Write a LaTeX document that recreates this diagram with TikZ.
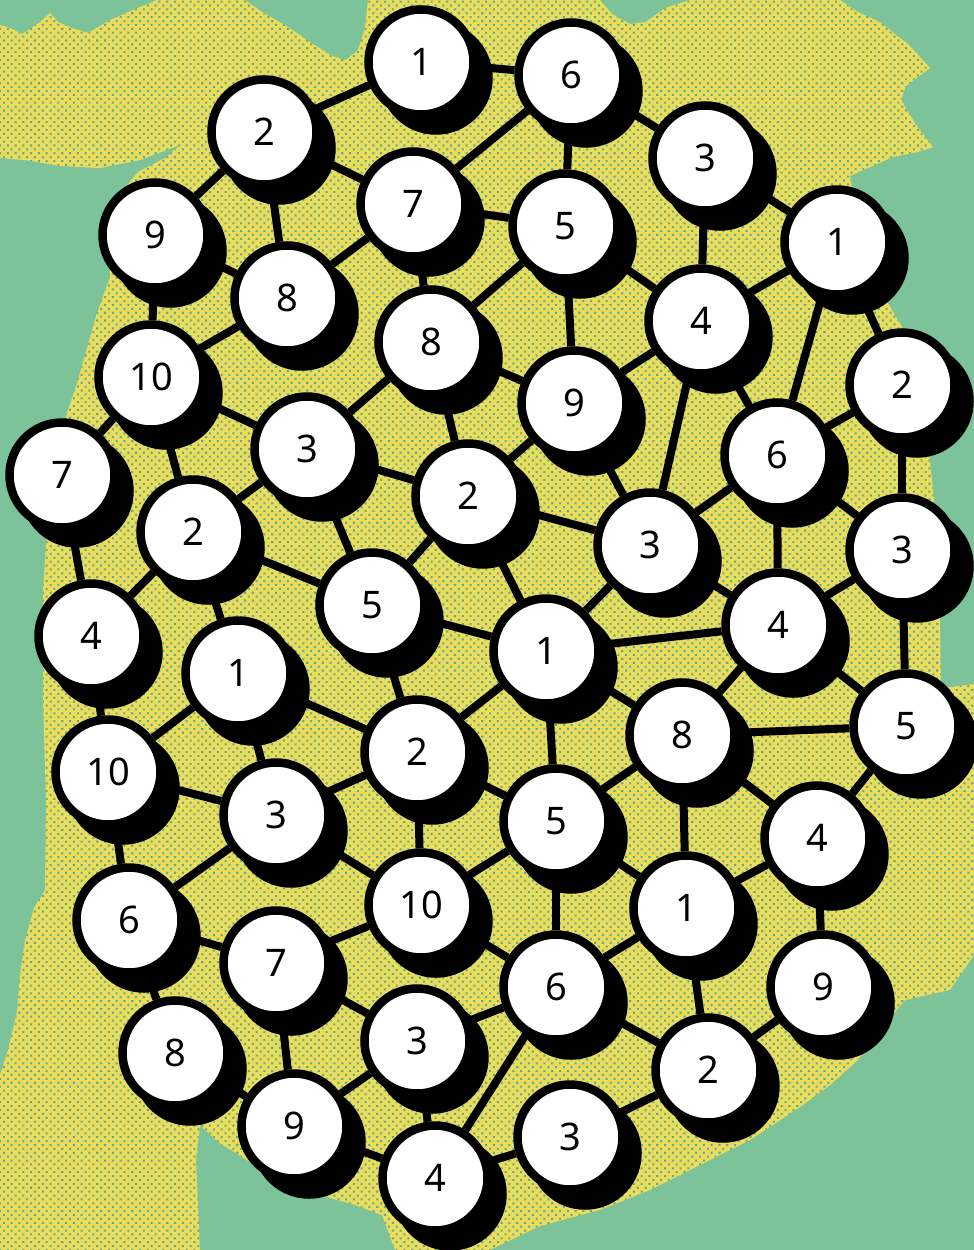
\documentclass[tikz,border=0pt]{standalone}
\usepackage{fontspec}
\setmainfont{Noto Sans}
\usetikzlibrary{patterns.meta}
\definecolor{bggreen}{HTML}{7CC39A}
\definecolor{blobyellow}{HTML}{EBDD5C}
\definecolor{dotgreen}{HTML}{65A98A}
\pgfdeclarelayer{blob}
\pgfdeclarelayer{edgelayer}
\pgfdeclarelayer{shadowlayer}
\pgfsetlayers{blob,edgelayer,shadowlayer,main}
\tikzset{
  vtx/.style={circle, draw=black, fill=white, line width=8.5pt, minimum size=105pt,
    inner sep=0pt, font=\fontsize{38pt}{38pt}\selectfont},
  link/.style={line width=8pt, draw=black},
  shade/.style={fill=black},
}
\begin{document}
\begin{tikzpicture}[x=1pt,y=-1pt]
\useasboundingbox (0,0) rectangle (974,1250);
% nodes
\foreach \n/\x/\y/\t in {
 A/421/62/1, B/571/75/6, C/264/132/2, D/705/158/3, E/413/204/7, F/565/226/5,
 G/155/235/9, H/837/242/1, I/287/298/8, J/701/321/4, K/431/342/8, L/151/377/10,
 M/902/385/2, N/574/403/9, O/307/449/3, P/777/455/6, Q/62/475/7, R/468/496/2,
 S/193/532/2, T/650/545/3, U/902/550/3, V/372/605/5, W/91/636/4, X/778/625/4,
 Y/546/651/1, Z/238/673/1, AA/906/726/5, AB/682/735/8, AC/417/752/2, AD/108/772/10,
 AE/276/815/3, AF/556/821/5, AG/817/838/4, AH/421/905/10, AI/686/908/1, AJ/129/920/6,
 AK/276/963/7, AL/556/987/6, AM/823/987/9, AN/417/1041/3, AO/175/1053/8, AP/708/1070/2,
 AQ/294/1126/9, AR/570/1137/3, AS/435/1178/4}
 {\node[vtx] (\n) at (\x,\y) {\t};}
% background
\begin{pgfonlayer}{blob}
\fill[bggreen] (0,0) rectangle (974,1250);
\path[preaction={fill=blobyellow}, pattern={Dots[distance=5.5pt,radius=1.45pt,angle=45]}, pattern color=dotgreen]
 (0,25) -- (10,28) -- (22,34) -- (40,22) -- (50,13) -- (58,22) -- (72,28) -- (88,33) -- (110,20) -- (140,7) -- (157,0)
 -- (245,0) -- (262,12) -- (285,25) -- (310,42) -- (332,56) -- (346,60) -- (358,50) -- (365,28) -- (368,0)
 -- (600,0) -- (612,14) -- (630,24) -- (646,22) -- (665,8) -- (690,0) -- (840,0) -- (858,12) -- (880,22)
 -- (896,35) -- (908,44) -- (930,68) -- (922,74) -- (906,86) -- (901,100) -- (916,125) -- (933,147) -- (918,152)
 -- (893,157) -- (868,168) -- (850,176) -- (856,212) -- (870,260) -- (886,300) -- (905,332) -- (915,370)
 -- (922,410) -- (930,460) -- (934,500) -- (938,560) -- (940,620) -- (941,688) -- (958,686) -- (974,684)
 -- (974,955) -- (950,990) -- (905,1000) -- (880,1030) -- (858,1060) -- (830,1085) -- (800,1107) -- (750,1140)
 -- (700,1165) -- (650,1190) -- (600,1210) -- (540,1226) -- (490,1250) -- (395,1250) -- (382,1215) -- (355,1205)
 -- (320,1195) -- (285,1180) -- (250,1162) -- (218,1142) -- (200,1125) -- (196,1160) -- (200,1250) -- (0,1250)
 -- (0,1075) -- (8,1050) -- (17,1012) -- (20,975) -- (25,940) -- (34,908) -- (45,890) -- (46,800) -- (43,700)
 -- (43,590) -- (47,530) -- (55,470) -- (67,413) -- (78,380) -- (97,313) -- (110,277) -- (108,240) -- (115,200)
 -- (138,172) -- (165,158) -- (180,145) -- (140,160) -- (100,168) -- (60,166) -- (25,160) -- (0,158) -- cycle;
\end{pgfonlayer}
% shadows
\begin{pgfonlayer}{shadowlayer}
\foreach \n in {A,B,C,D,E,F,G,H,I,J,K,L,M,N,O,P,Q,R,S,T,U,V,W,X,Y,Z,AA,AB,AC,AD,AE,AF,AG,AH,AI,AJ,AK,AL,AM,AN,AO,AP,AQ,AR,AS}
 {\fill[shade] ([shift={(15,16)}]\n.center) circle (56.75pt);}
\end{pgfonlayer}
% edges
\begin{pgfonlayer}{edgelayer}
\foreach \a/\b in {A/B, A/C, B/D, B/F, B/E, C/E, C/G, C/I, E/F, E/I, E/K, D/H, D/J, F/J, F/K, F/N,
 G/I, G/L, H/J, H/M, H/P, I/L, J/N, J/P, J/T, K/N, K/O, K/R, L/O, L/Q, L/S, M/P, M/U, N/R, N/T,
 O/S, O/R, O/V, P/T, P/U, P/X, Q/W, R/T, R/V, R/Y, S/W, S/V, S/Z, T/Y, T/X, U/X, U/AA, V/Y, V/AC,
 W/AD, X/Y, X/AA, X/AB, Y/AB, Y/AC, Y/AF, Z/AC, Z/AD, Z/AE, AA/AB, AA/AG, AB/AF, AB/AI, AB/AG,
 AC/AE, AC/AF, AC/AH, AD/AE, AD/AJ, AE/AH, AE/AJ, AF/AH, AF/AI, AF/AL, AG/AI, AG/AM, AH/AK, AH/AL,
 AI/AL, AI/AP, AJ/AK, AJ/AO, AK/AN, AK/AQ, AL/AN, AL/AP, AL/AS, AM/AP, AN/AQ, AN/AS, AO/AQ,
 AP/AR, AQ/AS, AR/AS}
 {\draw[link] (\a) -- (\b);}
\end{pgfonlayer}
\end{tikzpicture}
\end{document}
